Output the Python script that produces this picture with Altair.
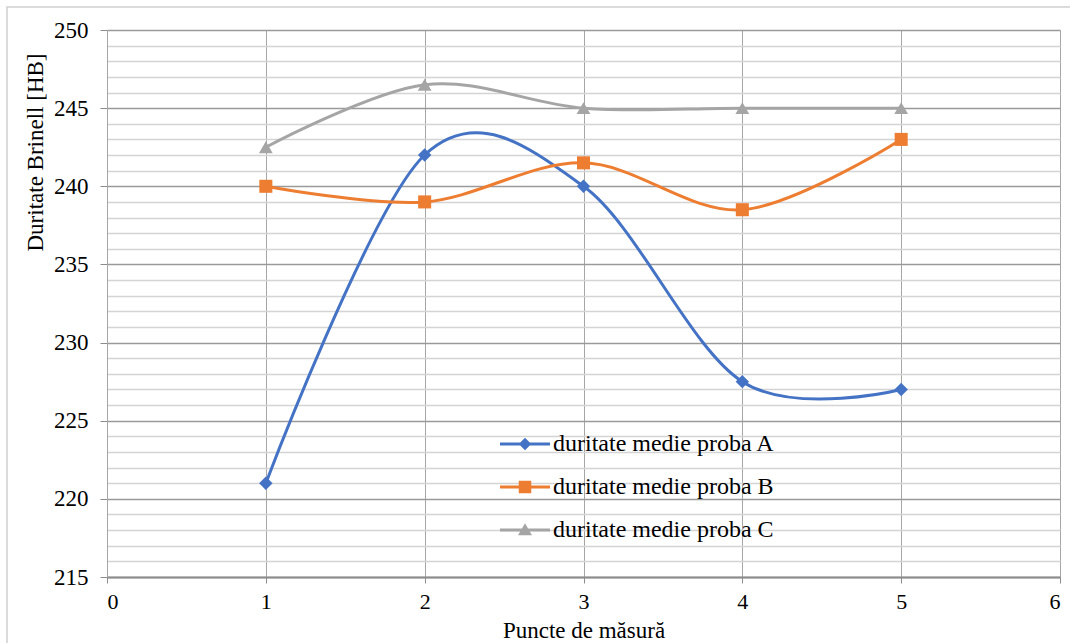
import altair as alt
import pandas as pd

# ---- data ----
points = [1, 2, 3, 4, 5]
proba_a = [221, 242, 240, 227.5, 227]
proba_b = [240, 239, 241.5, 238.5, 243]
proba_c = [242.5, 246.5, 245, 245, 245]
series_names = ["duritate medie proba A", "duritate medie proba B", "duritate medie proba C"]
colors = ["#4472C4", "#ED7D31", "#A5A5A5"]
x_ticks = [0, 1, 2, 3, 4, 5, 6]
y_ticks = list(range(215, 251))

rows = []
for name, vals in zip(series_names, [proba_a, proba_b, proba_c]):
    for x, v in zip(points, vals):
        rows.append({"punct": x, "valoare": v, "serie": name})
df = pd.DataFrame(rows)

FONT = "Liberation Serif"

x_axis = alt.Axis(
    values=x_ticks, tickCount=7, format="d", title="Puncte de măsură",
    labelFont=FONT, labelFontSize=22, labelColor="black", labelPadding=8,
    tickSize=6, tickColor="#8c8c8c", domainColor="#8c8c8c", domainWidth=2,
    gridColor="#a6a6a6", gridWidth=1,
    titleFont=FONT, titleFontSize=23, titleFontWeight="normal", titleColor="black",
    titleY=53, titleBaseline="middle",
)
y_axis = alt.Axis(
    values=y_ticks, tickCount=100, labelOverlap=False, format="d",
    labelExpr="datum.value % 5 === 0 ? datum.label : ''",
    labelFont=FONT, labelFontSize=23, labelColor="black", labelPadding=12,
    labelBaseline="middle",
    tickSize=7,
    tickColor={"condition": {"test": "datum.value % 5 === 0", "value": "#8c8c8c"}, "value": "rgba(0,0,0,0)"},
    domainColor="#a6a6a6",
    gridColor={"condition": {"test": "datum.value % 5 === 0", "value": "#9a9a9a"}, "value": "#d4d4d4"},
    gridWidth=1.3,
    title="Duritate Brinell [HB]",
    titleFont=FONT, titleFontSize=23, titleFontWeight="normal", titleColor="black",
    titleAngle=-90, titleX=-72, titleY=122, titleAlign="center", titleBaseline="middle",
)


def xe():
    return alt.X("punct:Q", scale=alt.Scale(domain=[0, 6], nice=False), axis=x_axis)


def ye():
    return alt.Y("valoare:Q", scale=alt.Scale(domain=[215, 250], nice=False, zero=False), axis=y_axis)


def color_scale():
    return alt.Scale(domain=series_names, range=colors)


base = alt.Chart(df)

lines = base.mark_line(interpolate="cardinal", tension=0, strokeWidth=3).encode(
    x=xe(), y=ye(), color=alt.Color("serie:N", scale=color_scale(), legend=None)
)

shapes = ["diamond", "square", "triangle-up"]
sizes = [180, 170, 190]
point_layers = []
for name, shp, sz in zip(series_names, shapes, sizes):
    point_layers.append(
        base.transform_filter(alt.datum.serie == name)
        .mark_point(shape=shp, filled=True, size=sz, opacity=1)
        .encode(x=xe(), y=ye(), color=alt.Color("serie:N", scale=color_scale(), legend=None))
    )

legend_paths = [
    "M-1,-0.06 L1,-0.06 L1,0.06 L-1,0.06 Z M0,-0.25 L0.25,0 L0,0.25 L-0.25,0 Z",
    "M-1,-0.06 L1,-0.06 L1,0.06 L-1,0.06 Z M-0.25,-0.25 L0.25,-0.25 L0.25,0.25 L-0.25,0.25 Z",
    "M-1,-0.06 L1,-0.06 L1,0.06 L-1,0.06 Z M0,-0.27 L0.28,0.21 L-0.28,0.21 Z",
]
leg = alt.Legend(
    title=None, orient="none", legendX=393, legendY=389,
    symbolSize=2500, symbolStrokeWidth=0, symbolOpacity=1,
    labelFont=FONT, labelFontSize=24, labelColor="black", labelOffset=3, labelLimit=500,
    rowPadding=6,
)
legend_layer = base.transform_filter("false").mark_point(filled=True, opacity=1).encode(
    x=xe(), y=ye(),
    color=alt.Color("serie:N", scale=color_scale(), legend=leg),
    shape=alt.Shape("serie:N", scale=alt.Scale(domain=series_names, range=legend_paths), legend=leg),
)

frame = alt.Chart(pd.DataFrame({"k": [0]})).mark_rect(
    fill=None, stroke="#d0d0d0", strokeWidth=1.5, clip=False
).encode(x=alt.value(-100), x2=alt.value(970), y=alt.value(-23), y2=alt.value(620))

chart = alt.layer(lines, *point_layers, legend_layer, frame).resolve_scale(
    color="independent", shape="independent"
).resolve_legend(color="independent", shape="independent").properties(
    width=953, height=547,
    padding={"left": 107, "top": 30, "right": 10, "bottom": 66},
    autosize=alt.AutoSizeParams(type="none"),
    background="white",
).configure(font=FONT).configure_view(stroke=None).configure_axis(
    labelFont=FONT, titleFont=FONT, labelColor="black"
)

chart.save("out.html", embed_options={"renderer": "svg", "actions": False})
